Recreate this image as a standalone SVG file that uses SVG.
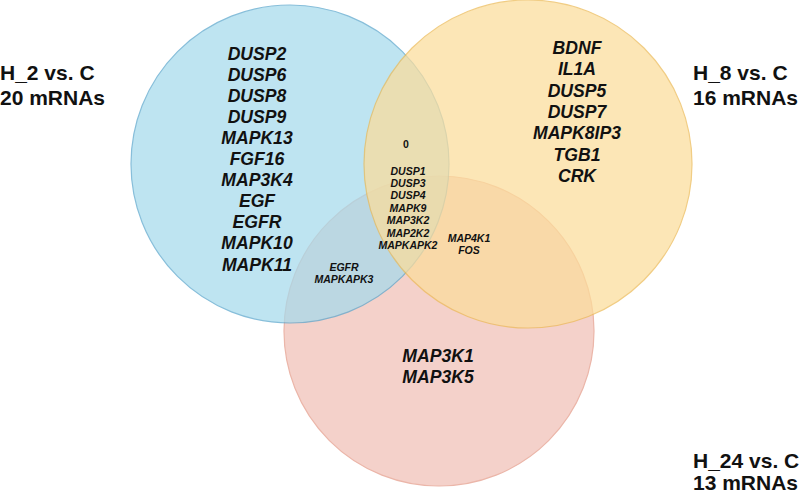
<svg xmlns="http://www.w3.org/2000/svg" width="800" height="495" viewBox="0 0 800 495">
<style>
.set{opacity:0.72;stroke-width:1.2}
.lbl{font-family:"Liberation Sans",Arial,sans-serif;font-weight:bold;font-size:21px;fill:#111}
.big{font-family:"Liberation Sans",Arial,sans-serif;font-weight:bold;font-style:italic;font-size:17.6px;fill:#111;text-anchor:middle}
.sm{font-family:"Liberation Sans",Arial,sans-serif;font-weight:bold;font-style:italic;font-size:10.5px;fill:#111;text-anchor:middle}
.zero{font-family:"Liberation Sans",Arial,sans-serif;font-weight:bold;font-size:10.5px;fill:#111;text-anchor:middle}
</style>
<rect width="800" height="495" fill="#ffffff"/>
<g id="set-h24">
<circle class="set" cx="439" cy="331" r="155" fill="#f1c0b6" stroke="#e49a88"/>
</g>
<g id="set-h2">
<circle class="set" cx="290" cy="164" r="159" fill="#a6daec" stroke="#5aa6cc"/>
</g>
<g id="set-h8">
<circle class="set" cx="528" cy="164" r="164" fill="#fcdd9b" stroke="#ecba55"/>
</g>
<g id="connectors"></g>
<g id="label-h2">
<text class="lbl" x="0" y="80">H_2 vs. C</text>
<text class="lbl" x="0" y="105">20 mRNAs</text>
</g>
<g id="label-h8">
<text class="lbl" x="693" y="80">H_8 vs. C</text>
<text class="lbl" x="693" y="105">16 mRNAs</text>
</g>
<g id="label-h24">
<text class="lbl" x="693" y="468">H_24 vs. C</text>
<text class="lbl" x="693" y="490">13 mRNAs</text>
</g>
<g id="only-h2">
<text class="big" x="257" y="59.5">DUSP2</text>
<text class="big" x="257" y="80.6">DUSP6</text>
<text class="big" x="257" y="101.7">DUSP8</text>
<text class="big" x="257" y="122.8">DUSP9</text>
<text class="big" x="257" y="143.9">MAPK13</text>
<text class="big" x="257" y="165">FGF16</text>
<text class="big" x="257" y="186.1">MAP3K4</text>
<text class="big" x="257" y="207.2">EGF</text>
<text class="big" x="257" y="228.3">EGFR</text>
<text class="big" x="257" y="249.4">MAPK10</text>
<text class="big" x="257" y="270.5">MAPK11</text>
</g>
<g id="only-h8">
<text class="big" x="577" y="54">BDNF</text>
<text class="big" x="577" y="75.3">IL1A</text>
<text class="big" x="577" y="96.6">DUSP5</text>
<text class="big" x="577" y="117.9">DUSP7</text>
<text class="big" x="577" y="139.2">MAPK8IP3</text>
<text class="big" x="577" y="160.5">TGB1</text>
<text class="big" x="577" y="181.8">CRK</text>
</g>
<g id="only-h24">
<text class="big" x="438" y="362">MAP3K1</text>
<text class="big" x="438" y="383">MAP3K5</text>
</g>
<g id="h2-h8">
<text class="zero" x="406" y="148.3">0</text>
</g>
<g id="h2-h8-h24">
<text class="sm" x="408" y="174.5">DUSP1</text>
<text class="sm" x="408" y="186.9">DUSP3</text>
<text class="sm" x="408" y="199.3">DUSP4</text>
<text class="sm" x="408" y="211.7">MAPK9</text>
<text class="sm" x="408" y="224.1">MAP3K2</text>
<text class="sm" x="408" y="236.5">MAP2K2</text>
<text class="sm" x="408" y="248.9">MAPKAPK2</text>
</g>
<g id="h8-h24">
<text class="sm" x="469" y="241.7">MAP4K1</text>
<text class="sm" x="469" y="254">FOS</text>
</g>
<g id="h2-h24">
<text class="sm" x="344" y="270.7">EGFR</text>
<text class="sm" x="344" y="282.7">MAPKAPK3</text>
</g>
</svg>
